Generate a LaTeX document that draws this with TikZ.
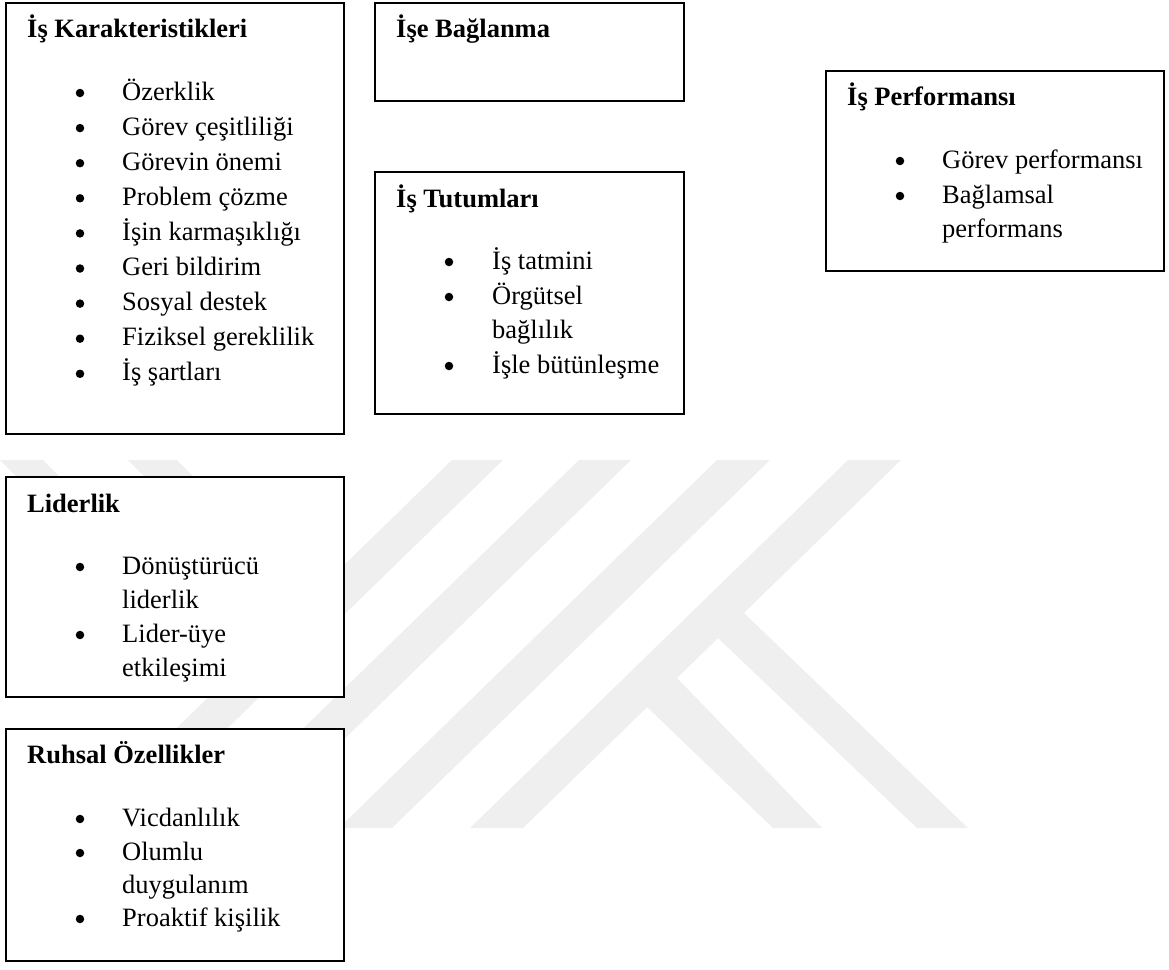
\documentclass[tikz,border=0pt]{standalone}
\usepackage{fontspec}
\setmainfont{Liberation Serif}
\definecolor{wmgray}{RGB}{239,239,239}
\begin{document}
\begin{tikzpicture}[x=1pt,y=-1pt,
  frame/.style={draw=black, line width=1.2pt, fill=white, anchor=north west, inner sep=0pt, outer sep=0pt},
  head/.style={anchor=base west, inner sep=0pt, font=\fontsize{26.5}{32}\selectfont\bfseries},
  item/.style={anchor=base west, inner sep=0pt, font=\fontsize{26.5}{32}\selectfont},
  dot/.style={circle, fill=black, inner sep=0pt, minimum size=8.5pt},
  stripe/.style={fill=wmgray, draw=none}]
\useasboundingbox (0,0) rectangle (1169,969);

% background emblem: diagonal bars
\fill[stripe] (0,460) -- (43,460) -- (143,560) -- (100,560) -- cycle;
\fill[stripe] (128,460) -- (177,460) -- (277,560) -- (228,560) -- cycle;
\fill[stripe] (452,460) -- (503,460) -- (125,828) -- (74,828) -- cycle;
\fill[stripe] (579,460) -- (631,460) -- (253,828) -- (201,828) -- cycle;
\fill[stripe] (717,460) -- (770,460) -- (392,828) -- (339,828) -- cycle;
\fill[stripe] (848,460) -- (901,460) -- (523,828) -- (470,828) -- cycle;
\fill[stripe] (744,613) -- (968,828) -- (917,828) -- (718,638) -- cycle;
\fill[stripe] (677,678) -- (822,828) -- (773,828) -- (647,707) -- cycle;

% İş Karakteristikleri
\node[frame, minimum width=338pt, minimum height=431pt] (kar) at (6,3) {};
\node[head] (kart) at (27,37) {İş Karakteristikleri};
\foreach \t [count=\i] in {Özerklik, Görev çeşitliliği, Görevin önemi, Problem çözme, İşin karmaşıklığı, Geri bildirim, Sosyal destek, Fiziksel gereklilik, İş şartları}{
  \pgfmathsetmacro\yb{100+35.1*(\i-1)}
  \node[dot] (kard\i) at (80,\yb-7) {};
  \node[item] (kari\i) at (122,\yb) {\t};
}

% İşe Bağlanma
\node[frame, minimum width=309pt, minimum height=98pt] (bag) at (375,3) {};
\node[head] (bagt) at (396,37) {İşe Bağlanma};

% İş Tutumları
\node[frame, minimum width=309pt, minimum height=242pt] (tut) at (375,172) {};
\node[head] (tutt) at (396,207) {İş Tutumları};
\node[dot] (tutd1) at (449,262) {};
\node[item] (tuti1) at (492,269) {İş tatmini};
\node[dot] (tutd2) at (449,297) {};
\node[item] (tuti2) at (492,304) {Örgütsel};
\node[item] (tuti2b) at (492,338) {bağlılık};
\node[dot] (tutd3) at (449,366) {};
\node[item] (tuti3) at (492,373) {İşle bütünleşme};

% İş Performansı
\node[frame, minimum width=338pt, minimum height=200pt] (perf) at (826,71) {};
\node[head] (perft) at (847,105) {İş Performansı};
\node[dot] (perfd1) at (900,161) {};
\node[item] (perfi1) at (942,168) {Görev performansı};
\node[dot] (perfd2) at (900,196) {};
\node[item] (perfi2) at (942,203) {Bağlamsal};
\node[item] (perfi2b) at (942,237) {performans};

% Liderlik
\node[frame, minimum width=338pt, minimum height=220pt] (lid) at (6,477) {};
\node[head] (lidt) at (27,512) {Liderlik};
\node[dot] (lidd1) at (80,567) {};
\node[item] (lidi1) at (122,574) {Dönüştürücü};
\node[item] (lidi1b) at (122,608) {liderlik};
\node[dot] (lidd2) at (80,635) {};
\node[item] (lidi2) at (122,642) {Lider-üye};
\node[item] (lidi2b) at (122,676) {etkileşimi};

% Ruhsal Özellikler
\node[frame, minimum width=338pt, minimum height=232pt] (ruh) at (6,729) {};
\node[head] (ruht) at (27,763) {Ruhsal Özellikler};
\node[dot] (ruhd1) at (80,819) {};
\node[item] (ruhi1) at (122,826) {Vicdanlılık};
\node[dot] (ruhd2) at (80,853) {};
\node[item] (ruhi2) at (122,860) {Olumlu};
\node[item] (ruhi2b) at (122,893) {duygulanım};
\node[dot] (ruhd3) at (80,919) {};
\node[item] (ruhi3) at (122,926) {Proaktif kişilik};
\end{tikzpicture}
\end{document}
